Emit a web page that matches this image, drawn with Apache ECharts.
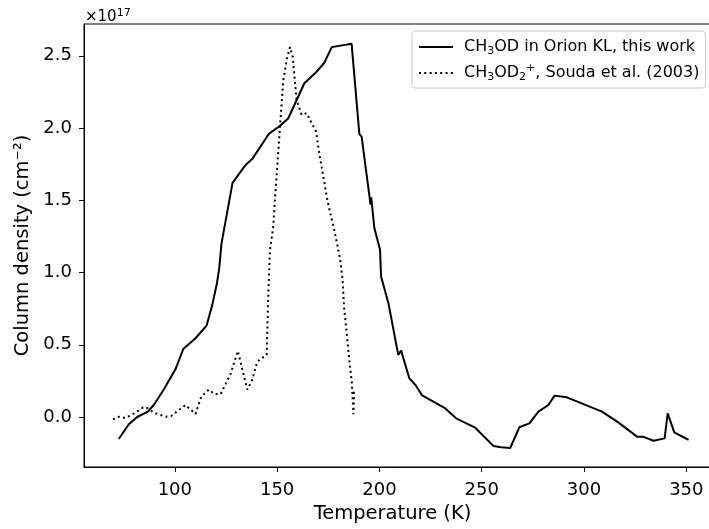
<!DOCTYPE html>
<html>
<head>
<meta charset="utf-8" />
<title></title>
<script src="https://cdn.jsdelivr.net/npm/echarts@6/dist/echarts.min.js"></script>
<style>
html, body { margin: 0; padding: 0; background: #ffffff; }
#chart { width: 709px; height: 529px; }
</style>
</head>
<body>
<div id="chart"></div>
<script type="text/javascript">
// temperatures (K) and column densities (units of 1e17 cm^-2)
var orionT = [72.6, 77.5, 81.6, 86.8, 89.7, 94.6, 100.3, 104.1, 110.1, 115.5,
	118.3, 120.5, 121.7, 122.8, 128.2, 134.6, 137.8, 146.0, 151.4, 155.4,
	163.3, 169.3, 173.0, 176.7, 186.4, 190.2, 191.3, 195.2, 195.6, 196.0,
	197.5, 200.3, 200.8, 204.4, 209.2, 210.6, 214.6, 217.9, 220.7, 231.8,
	237.5, 246.8, 255.7, 259.5, 263.9, 264.7, 268.4, 273.3, 277.7, 282.6,
	285.6, 291.6, 308.8, 316.9, 325.9, 328.8, 334.0, 339.4, 340.9, 344.1, 351.1];
var orionN = [-0.152, -0.05, 0.0, 0.037, 0.083, 0.19, 0.33, 0.47, 0.545, 0.632,
	0.776, 0.92, 1.03, 1.2, 1.62, 1.745, 1.785, 1.96, 2.015, 2.066,
	2.31, 2.39, 2.45, 2.56, 2.583, 1.958, 1.94, 1.52, 1.47, 1.52,
	1.31, 1.157, 0.972, 0.787, 0.43, 0.46, 0.268, 0.217, 0.152, 0.064,
	-0.009, -0.074, -0.2, -0.21, -0.215, -0.21, -0.071, -0.044, 0.037, 0.083,
	0.148, 0.136, 0.037, -0.039, -0.136, -0.136, -0.164, -0.148, 0.026, -0.106, -0.159];

var soudaT = [69.8, 72.6, 75.9, 80.8, 84.5, 86.8, 89.7, 95.5, 98.2, 105.2,
	110.1, 112.9, 116.6, 119.4, 122.4, 127.3, 130.8, 135.4, 137.8, 140.3,
	144.9, 145.6, 146.5, 148.1, 148.9, 149.8, 151.4, 153.0, 154.8, 156.3,
	157.6, 159.5, 162.0, 164.4, 169.0, 170.9, 174.7, 178.3, 180.7, 182.0,
	182.7, 184.0, 185.3, 186.5, 187.3, 187.6, 189.2];
var soudaN = [-0.016, 0.002, -0.007, 0.03, 0.067, 0.06, 0.03, 0.002, 0.007, 0.083,
	0.021, 0.14, 0.19, 0.159, 0.159, 0.30, 0.457, 0.19, 0.256, 0.383,
	0.43, 0.81, 1.157, 1.318, 1.50, 1.68, 2.01, 2.33, 2.48, 2.56,
	2.495, 2.195, 2.09, 2.103, 1.976, 1.80, 1.49, 1.27, 1.10, 0.95,
	0.76, 0.58, 0.39, 0.24, 0.02, 0.17, 0.18];

var xTicks = [100, 150, 200, 250, 300, 350];
var yTicks = [0.0, 0.5, 1.0, 1.5, 2.0, 2.5];

var nameOrion = 'CH₃OD in Orion KL, this work';
var nameSouda = 'CH₃OD₂⁺, Souda et al. (2003)';
var legendRich = {};
legendRich[nameOrion] = 'CH{sub|3}OD in Orion KL, this work';
legendRich[nameSouda] = 'CH{sub|3}OD{sub|2}{sup|+}, Souda et al. (2003)';

function pairs(xs, ys) {
	var out = [];
	for (var i = 0; i < xs.length; i++) out.push([xs[i], ys[i]]);
	return out;
}

var font = 'DejaVu Sans';
var myChart = echarts.init(document.getElementById('chart'));
myChart.setOption({
	animation : false,
	backgroundColor : '#ffffff',
	title : {
		text : '×10{s|17}',
		left : 80,
		top : 3,
		textStyle : {
			fontFamily : font, fontSize : 15, fontWeight : 'normal', color : '#000', lineHeight : 18,
			rich : { s : { fontFamily : font, fontSize : 11, color : '#000', verticalAlign : 'top', lineHeight : 11 } }
		}
	},
	legend : {
		orient : 'vertical',
		left : 412,
		top : 31,
		padding : [6, 6, 5, 6],
		itemWidth : 34,
		itemHeight : 14,
		itemGap : 6,
		backgroundColor : '#ffffff',
		borderColor : '#cccccc',
		borderWidth : 1,
		borderRadius : 3,
		itemStyle : { opacity : 0 },
		formatter : function(name) { return legendRich[name]; },
		textStyle : {
			fontFamily : font, fontSize : 16, color : '#000', lineHeight : 20,
			padding : [0, 0, 0, 6],
			rich : {
				sub : { fontFamily : font, fontSize : 11, color : '#000', verticalAlign : 'bottom', lineHeight : 14 },
				sup : { fontFamily : font, fontSize : 11, color : '#000', verticalAlign : 'top', lineHeight : 12 }
			}
		},
		data : [ nameOrion, nameSouda ]
	},
	grid : {
		left : 84,
		top : 24,
		width : 633,
		height : 443,
		containLabel : false,
		outerBoundsMode : 'none',
		show : true,
		borderColor : '#000',
		borderWidth : 1
	},
	xAxis : {
		type : 'value',
		min : 55.6,
		max : 365,
		name : 'Temperature (K)',
		nameLocation : 'middle',
		nameGap : 33,
		nameTextStyle : { fontFamily : font, fontSize : 19.5, color : '#000', padding : [0, 0, 0, -16] },
		axisLine : { show : true, onZero : false, lineStyle : { color : '#000' } },
		axisTick : { show : true, length : 5, lineStyle : { color : '#000' }, customValues : xTicks },
		axisLabel : { fontFamily : font, fontSize : 18, color : '#000', margin : 14, customValues : xTicks },
		splitLine : { show : false }
	},
	yAxis : {
		type : 'value',
		min : -0.346,
		max : 2.72,
		name : 'Column density (cm⁻²)',
		nameLocation : 'middle',
		nameGap : 47,
		nameRotate : 90,
		nameTextStyle : { fontFamily : font, fontSize : 19.5, color : '#000' },
		axisLine : { show : true, onZero : false, lineStyle : { color : '#000' } },
		axisTick : { show : true, length : 5, lineStyle : { color : '#000' }, customValues : yTicks },
		axisLabel : {
			fontFamily : font, fontSize : 18, color : '#000', margin : 12,
			customValues : yTicks,
			formatter : function(v) { return v.toFixed(1); }
		},
		splitLine : { show : false }
	},
	series : [ {
		name : nameOrion,
		type : 'line',
		symbol : 'none',
		lineStyle : { color : '#000', width : 2 },
		itemStyle : { color : '#000' },
		data : pairs(orionT, orionN)
	}, {
		name : nameSouda,
		type : 'line',
		symbol : 'none',
		lineStyle : { color : '#000', width : 2, type : [2, 3.3] },
		itemStyle : { color : '#000' },
		data : pairs(soudaT, soudaN)
	} ]
});
</script>
</body>
</html>
